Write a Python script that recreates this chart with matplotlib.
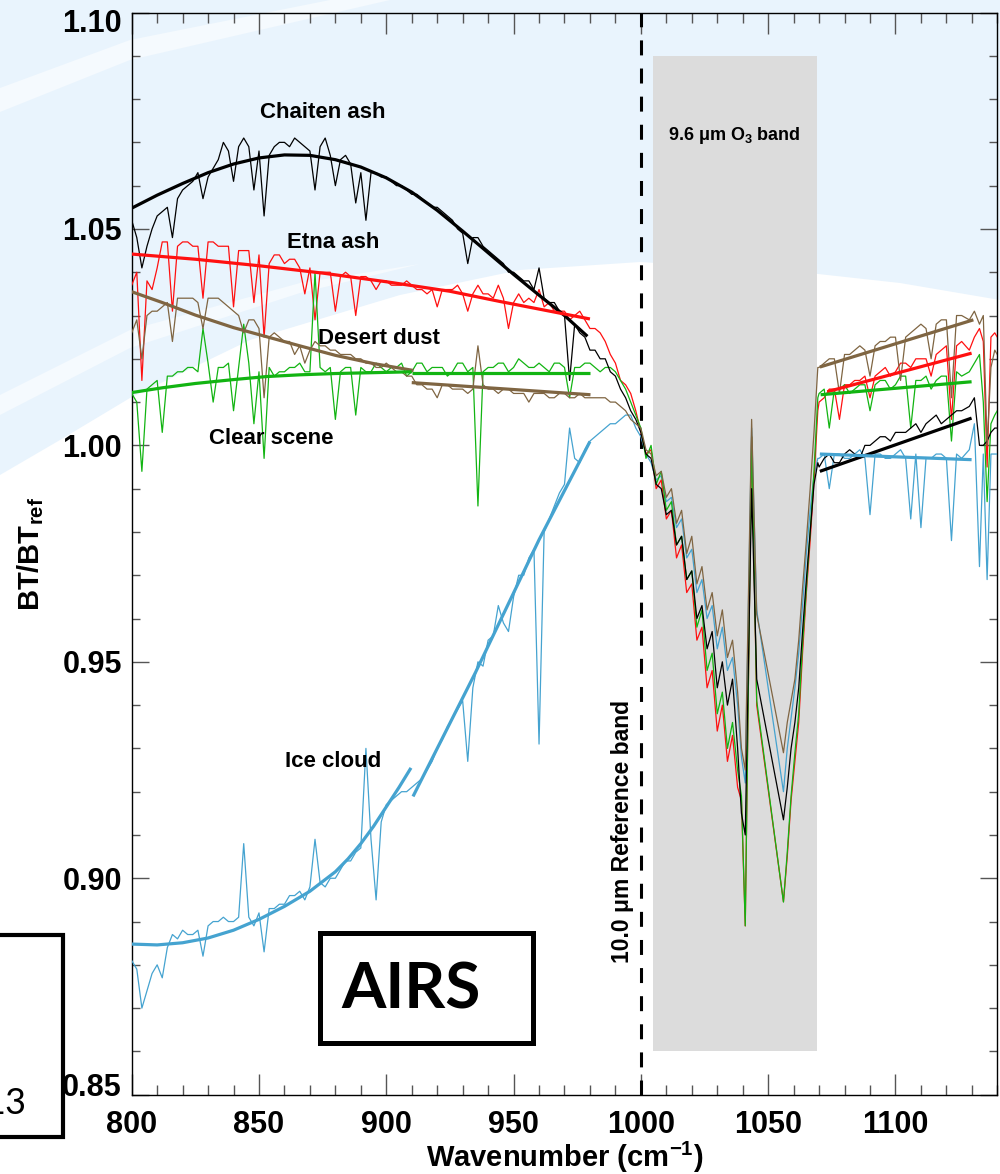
import numpy as np
import matplotlib
matplotlib.use('Agg')
import matplotlib.pyplot as plt
from matplotlib.patches import Polygon, Rectangle
from matplotlib.transforms import ScaledTranslation

plt.rcParams['font.family'] = ['Liberation Sans', 'DejaVu Sans']
plt.rcParams['font.weight'] = 'bold'
plt.rcParams['mathtext.fontset'] = 'custom'
plt.rcParams['mathtext.rm'] = 'Liberation Sans:bold'
plt.rcParams['mathtext.it'] = 'Liberation Sans:bold'
plt.rcParams['mathtext.bf'] = 'Liberation Sans:bold'
plt.rcParams['mathtext.default'] = 'regular'

# ---- wavenumber grids (cm-1) ----
wn_left = list(range(800, 1000, 4))
wn_left_mid = list(range(802, 1000, 4))
wn_band = [1000, 1002, 1004, 1006, 1008, 1010, 1012, 1014, 1016, 1018, 1020, 1022, 1024,
           1026, 1028, 1030, 1032, 1034, 1036, 1038, 1039.5, 1041, 1043.5, 1045.5, 1056,
           1057.5, 1059, 1060.5, 1062, 1063.5, 1065, 1066.5, 1068, 1069.5]
wn_right = [1070, 1074, 1078, 1082, 1086, 1090, 1094, 1098, 1102, 1106, 1110, 1114, 1118,
            1122, 1126, 1129, 1131, 1133, 1134.5, 1136, 1137.5, 1139, 1140]
wn_right_mid = list(range(1072, 1125, 4))

# ---- spectra: BT/BTref ----
chaiten_left = [1.052, 1.041, 1.050, 1.054, 1.048, 1.059, 1.061, 1.057, 1.064, 1.070,
                1.061, 1.071, 1.059, 1.053, 1.069, 1.070, 1.071, 1.069, 1.059, 1.071,
                1.060, 1.067, 1.056, 1.052, 1.063, 1.062, 1.060, 1.059, 1.058, 1.056,
                1.055, 1.053, 1.050, 1.042, 1.048, 1.045, 1.043, 1.040, 1.039, 1.038,
                1.041, 1.033, 1.031, 1.015, 1.026, 1.022, 1.020, 1.017, 1.013, 1.008]
chaiten_left_mid = [1.048, 1.046, 1.053, 1.055, 1.057, 1.060, 1.063, 1.062, 1.066, 1.068,
                    1.069, 1.069, 1.068, 1.067, 1.070, 1.069, 1.070, 1.068, 1.069, 1.067,
                    1.066, 1.065, 1.063, 1.063, 1.062, 1.061, 1.060, 1.058, 1.057, 1.055,
                    1.054, 1.052, 1.049, 1.048, 1.046, 1.044, 1.042, 1.040, 1.038, 1.036,
                    1.034, 1.033, 1.030, 1.028, 1.025, 1.022, 1.020, 1.016, 1.011, 1.006]
chaiten_band = [1.003, 0.998, 0.997, 0.991, 0.990, 0.984, 0.985, 0.977, 0.979, 0.969,
                0.971, 0.960, 0.963, 0.953, 0.957, 0.944, 0.950, 0.940, 0.946, 0.930,
                0.915, 0.910, 0.990, 0.946, 0.9135, 0.921, 0.930, 0.936, 0.944, 0.957,
                0.969, 0.980, 0.991, 0.996]
chaiten_right = [0.995, 0.998, 0.996, 0.999, 0.997, 1.000, 1.002, 1.001, 1.003, 1.004,
                 1.003, 1.006, 1.005, 1.007, 1.008, 1.009, 1.011, 1.000, 1.000, 1.001,
                 1.003, 1.004, 1.004]
chaiten_right_mid = [0.997, 0.996, 0.998, 0.998, 1.000, 1.001, 1.002, 1.003, 1.003, 1.005,
                     1.005, 1.007, 1.006, 1.008]

etna_left = [1.037, 1.015, 1.036, 1.047, 1.031, 1.047, 1.046, 1.034, 1.047, 1.046,
             1.032, 1.045, 1.033, 1.025, 1.044, 1.042, 1.043, 1.035, 1.029, 1.040,
             1.031, 1.040, 1.030, 1.039, 1.036, 1.038, 1.037, 1.038, 1.036, 1.035,
             1.032, 1.036, 1.037, 1.031, 1.037, 1.035, 1.037, 1.027, 1.035, 1.034,
             1.036, 1.033, 1.031, 1.029, 1.031, 1.027, 1.026, 1.021, 1.015, 1.012]
etna_left_mid = [1.040, 1.038, 1.041, 1.047, 1.046, 1.047, 1.046, 1.047, 1.046, 1.046,
                 1.045, 1.045, 1.044, 1.042, 1.044, 1.043, 1.041, 1.041, 1.040, 1.040,
                 1.039, 1.039, 1.039, 1.038, 1.038, 1.037, 1.037, 1.037, 1.036, 1.036,
                 1.036, 1.036, 1.035, 1.035, 1.035, 1.034, 1.034, 1.033, 1.033, 1.033,
                 1.032, 1.031, 1.031, 1.030, 1.029, 1.027, 1.024, 1.019, 1.014, 1.008]
etna_band = [1.003, 0.998, 0.999, 0.990, 0.992, 0.983, 0.985, 0.974, 0.977, 0.966,
             0.968, 0.955, 0.958, 0.944, 0.948, 0.934, 0.940, 0.927, 0.933, 0.921,
             0.918, 0.889, 1.002, 0.940, 0.8946, 0.905, 0.918, 0.927, 0.936, 0.952,
             0.966, 0.978, 0.992, 1.008]
etna_right = [1.010, 1.013, 1.006, 1.014, 1.015, 1.011, 1.017, 1.016, 1.019, 1.018,
              1.020, 1.016, 1.022, 1.006, 1.024, 1.022, 1.025, 1.027, 1.024, 0.995,
              1.025, 1.026, 1.025]
etna_right_mid = [1.011, 1.013, 1.014, 1.015, 1.016, 1.016, 1.018, 1.017, 1.019, 1.020,
                  1.020, 1.021, 1.023, 1.023]

dust_left = [1.026, 1.020, 1.031, 1.032, 1.024, 1.034, 1.034, 1.027, 1.034, 1.033,
             1.031, 1.026, 1.029, 1.011, 1.026, 1.024, 1.021, 1.019, 1.024, 1.023,
             1.022, 1.021, 1.020, 1.019, 1.018, 1.019, 1.017, 1.016, 1.014, 1.013,
             1.011, 1.014, 1.013, 1.012, 1.023, 1.013, 1.012, 1.013, 1.012, 1.010,
             1.012, 1.011, 1.012, 1.011, 1.012, 1.011, 1.011, 1.010, 1.009, 1.006]
dust_left_mid = [1.029, 1.030, 1.031, 1.033, 1.034, 1.034, 1.033, 1.034, 1.034, 1.032,
                 1.030, 1.029, 1.027, 1.025, 1.025, 1.024, 1.023, 1.022, 1.023, 1.022,
                 1.021, 1.021, 1.020, 1.019, 1.018, 1.018, 1.017, 1.016, 1.014, 1.013,
                 1.014, 1.013, 1.013, 1.013, 1.014, 1.013, 1.013, 1.012, 1.012, 1.012,
                 1.012, 1.011, 1.012, 1.011, 1.011, 1.011, 1.011, 1.010, 1.008, 1.005]
dust_band = [1.004, 0.999, 0.998, 0.993, 0.994, 0.988, 0.990, 0.982, 0.985, 0.975,
             0.979, 0.968, 0.972, 0.962, 0.966, 0.956, 0.962, 0.951, 0.955, 0.943,
             0.930, 0.925, 1.006, 0.961, 0.929, 0.936, 0.941, 0.946, 0.955, 0.967,
             0.978, 0.990, 1.003, 1.018]
dust_right = [1.018, 1.020, 1.012, 1.021, 1.023, 1.016, 1.024, 1.025, 1.015, 1.026,
              1.028, 1.020, 1.029, 1.011, 1.030, 1.029, 1.031, 1.028, 1.030, 1.000,
              1.018, 1.022, 1.021]
dust_right_mid = [1.019, 1.020, 1.021, 1.022, 1.022, 1.023, 1.024, 1.025, 1.025, 1.027,
                  1.027, 1.028, 1.029, 1.030]

clear_left = [1.012, 0.994, 1.014, 1.003, 1.016, 1.017, 1.018, 1.027, 1.010, 1.018,
              1.008, 1.028, 1.005, 0.997, 1.016, 1.017, 1.018, 1.017, 1.040, 1.017,
              1.006, 1.018, 1.007, 1.017, 1.019, 1.017, 1.018, 1.016, 1.019, 1.017,
              1.018, 1.016, 1.019, 1.017, 0.986, 1.018, 1.019, 1.017, 1.020, 1.018,
              1.019, 1.017, 1.019, 1.011, 1.018, 1.019, 1.017, 1.018, 1.015, 1.010]
clear_left_mid = [1.010, 1.013, 1.015, 1.016, 1.017, 1.018, 1.017, 1.019, 1.018, 1.019,
                  1.018, 1.019, 1.017, 1.018, 1.017, 1.018, 1.019, 1.017, 1.018, 1.018,
                  1.017, 1.018, 1.018, 1.017, 1.018, 1.018, 1.019, 1.017, 1.019, 1.018,
                  1.018, 1.017, 1.019, 1.018, 1.017, 1.018, 1.019, 1.018, 1.019, 1.018,
                  1.018, 1.019, 1.018, 1.018, 1.019, 1.018, 1.018, 1.017, 1.013, 1.007]
clear_band = [1.004, 0.997, 1.000, 0.991, 0.994, 0.985, 0.987, 0.977, 0.979, 0.969,
              0.971, 0.958, 0.962, 0.948, 0.952, 0.938, 0.943, 0.930, 0.936, 0.925,
              0.919, 0.889, 1.002, 0.941, 0.8945, 0.906, 0.919, 0.929, 0.938, 0.954,
              0.967, 0.980, 0.994, 1.011]
clear_right = [1.012, 1.004, 1.013, 1.012, 1.014, 1.008, 1.015, 1.013, 1.016, 1.004,
               1.015, 1.013, 1.016, 1.001, 1.016, 1.017, 1.019, 1.021, 1.010, 0.987,
               1.005, 1.007, 1.008]
clear_right_mid = [1.013, 1.013, 1.014, 1.013, 1.014, 1.014, 1.015, 1.014, 1.016, 1.015,
                   1.016, 1.015, 1.016, 1.017]

ice_left = [0.881, 0.870, 0.878, 0.877, 0.887, 0.888, 0.887, 0.882, 0.890, 0.891,
            0.890, 0.908, 0.889, 0.883, 0.893, 0.894, 0.896, 0.895, 0.909, 0.898,
            0.900, 0.904, 0.906, 0.930, 0.895, 0.917, 0.919, 0.920, 0.922, 0.925,
            0.930, 0.935, 0.939, 0.927, 0.950, 0.955, 0.963, 0.957, 0.970, 0.974,
            0.931, 0.983, 0.989, 1.004, 0.996, 1.001, 1.003, 1.005, 1.006, 1.007]
ice_left_mid = [0.879, 0.874, 0.880, 0.884, 0.886, 0.887, 0.888, 0.889, 0.890, 0.890,
                0.891, 0.891, 0.892, 0.893, 0.894, 0.896, 0.897, 0.898, 0.899, 0.900,
                0.902, 0.904, 0.907, 0.909, 0.913, 0.918, 0.920, 0.921, 0.923, 0.927,
                0.932, 0.937, 0.941, 0.944, 0.949, 0.956, 0.959, 0.965, 0.970, 0.976,
                0.980, 0.986, 0.991, 0.997, 0.999, 1.002, 1.004, 1.005, 1.007, 1.004]
ice_band = [1.002, 0.998, 0.996, 0.992, 0.993, 0.987, 0.988, 0.981, 0.983, 0.974,
            0.976, 0.966, 0.969, 0.960, 0.963, 0.953, 0.958, 0.948, 0.951, 0.940,
            0.928, 0.922, 1.004, 0.962, 0.920, 0.930, 0.937, 0.944, 0.952, 0.963,
            0.975, 0.985, 0.993, 0.997]
ice_right = [0.997, 0.990, 0.998, 0.997, 0.999, 0.984, 0.998, 0.997, 0.999, 0.983,
             0.981, 0.997, 0.998, 0.978, 0.997, 0.999, 1.005, 0.972, 0.998, 0.969,
             0.998, 0.998, 0.998]
ice_right_mid = [0.998, 0.998, 0.997, 0.998, 0.997, 0.998, 0.997, 0.998, 0.997, 0.998,
                 0.997, 0.998, 0.997, 0.998]

# ---- fitted curves ----
chaiten_fit_x = [800, 810, 820, 830, 840, 850, 860, 870, 880, 890, 900, 910, 920, 930,
                 940, 950, 960, 970, 979]
chaiten_fit_y = [1.0548, 1.0578, 1.0605, 1.0630, 1.0650, 1.0664, 1.0671, 1.0670, 1.0660,
                 1.0643, 1.0618, 1.0585, 1.0543, 1.0495, 1.0445, 1.0395, 1.0347, 1.0300,
                 1.0252]
chaiten_fit2_x = [1070.3, 1129.9]
chaiten_fit2_y = [0.9940, 1.0063]

etna_fit_x = [800, 825, 850, 875, 900, 925, 945, 980]
etna_fit_y = [1.0442, 1.0430, 1.0415, 1.0398, 1.0378, 1.0356, 1.0332, 1.0292]
etna_fit2_x = [1073.2, 1129.9]
etna_fit2_y = [1.0124, 1.0213]

dust_fit_x = [800, 812, 825, 840, 853, 866, 880, 895, 910.7]
dust_fit_y = [1.0355, 1.0330, 1.0301, 1.0272, 1.0251, 1.0230, 1.0208, 1.0189, 1.0173]
dust_fit1b_x = [910, 980.2]
dust_fit1b_y = [1.0145, 1.0117]
dust_fit2_x = [1070.3, 1130.6]
dust_fit2_y = [1.0181, 1.0290]

clear_fit_x = [800, 812, 825, 840, 853, 866, 880, 895, 910]
clear_fit_y = [1.0122, 1.0133, 1.0143, 1.0152, 1.0159, 1.0163, 1.0166, 1.0168, 1.0170]
clear_fit1b_x = [910, 980]
clear_fit1b_y = [1.0168, 1.0168]
clear_fit2_x = [1070.6, 1129.9]
clear_fit2_y = [1.0117, 1.0147]

ice_fit_x = [800, 810, 820, 830, 840, 850, 860, 870, 880, 885, 890, 895, 900, 905, 909.7]
ice_fit_y = [0.8848, 0.8846, 0.8851, 0.8862, 0.8880, 0.8905, 0.8935, 0.8970, 0.9015,
             0.9045, 0.9080, 0.9120, 0.9165, 0.9210, 0.9255]
ice_fit1b_x = [910.5, 935, 960, 980]
ice_fit1b_y = [0.9189, 0.9475, 0.9782, 1.0009]
ice_fit2_x = [1070.3, 1129.9]
ice_fit2_y = [0.9980, 0.9967]

c_black = '#000000'
c_red = '#ff1010'
c_green = '#12b412'
c_brown = '#7f6542'
c_blue = '#45a3d0'

W, H = 1000, 1174
fig = plt.figure(figsize=(W / 100, H / 100), dpi=100, facecolor='white')


def px(x, y):
    # image pixel -> figure fraction
    return (x / W, 1 - y / H)


# slide background swooshes
bg_blue = '#e9f4fd'
blue_area = [(0, 0), (1000, 0), (1000, 300), (900, 283), (800, 272), (640, 262), (520, 270),
             (400, 295), (250, 340), (130, 398), (60, 440), (0, 475)]
fig.add_artist(Polygon([px(*p) for p in blue_area], closed=True, transform=fig.transFigure,
                       facecolor=bg_blue, edgecolor='none', zorder=-10))
streak1 = [(0, 88), (130, 40), (330, 0), (390, 0), (130, 60), (0, 112)]
streak2 = [(0, 395), (130, 330), (300, 283), (420, 264), (300, 293), (130, 348), (0, 415)]
for s in (streak1, streak2):
    fig.add_artist(Polygon([px(*p) for p in s], closed=True, transform=fig.transFigure,
                           facecolor='white', edgecolor='none', alpha=0.55, zorder=-9))

ax = fig.add_axes([131.7 / W, 1 - 1094.7 / H, (997.3 - 131.7) / W, (1094.7 - 12.5) / H])
ax.set_facecolor('none')

# ozone band shading and reference line
ax.add_patch(Rectangle((1004.9, 0.86), 1069.3 - 1004.9, 0.23, facecolor='#dcdcdc',
                       edgecolor='none', zorder=1))
ax.axvline(1000, color='black', lw=2.2, dashes=(4.9, 4.3), zorder=2)

series = [
    (ice_left, ice_left_mid, ice_band, ice_right, ice_right_mid, c_blue),
    (etna_left, etna_left_mid, etna_band, etna_right, etna_right_mid, c_red),
    (clear_left, clear_left_mid, clear_band, clear_right, clear_right_mid, c_green),
    (chaiten_left, chaiten_left_mid, chaiten_band, chaiten_right, chaiten_right_mid, c_black),
    (dust_left, dust_left_mid, dust_band, dust_right, dust_right_mid, c_brown),
]
for left, lmid, band, right, rmid, col in series:
    xs = np.array(wn_left + wn_left_mid + wn_band + wn_right + wn_right_mid, dtype=float)
    ys = np.array(left + lmid + band + right + rmid)
    order = np.argsort(xs, kind='stable')
    ax.plot(xs[order], ys[order], color=col, lw=0.9, zorder=3)

fits = [
    (chaiten_fit_x, chaiten_fit_y, c_black), (chaiten_fit2_x, chaiten_fit2_y, c_black),
    (etna_fit_x, etna_fit_y, c_red), (etna_fit2_x, etna_fit2_y, c_red),
    (dust_fit_x, dust_fit_y, c_brown), (dust_fit1b_x, dust_fit1b_y, c_brown),
    (dust_fit2_x, dust_fit2_y, c_brown),
    (clear_fit_x, clear_fit_y, c_green), (clear_fit1b_x, clear_fit1b_y, c_green),
    (clear_fit2_x, clear_fit2_y, c_green),
    (ice_fit_x, ice_fit_y, c_blue), (ice_fit1b_x, ice_fit1b_y, c_blue),
    (ice_fit2_x, ice_fit2_y, c_blue),
]
for fx, fy, col in fits:
    ax.plot(fx, fy, color=col, lw=2.3, zorder=4, solid_capstyle='butt')

ax.set_xlim(800, 1140)
ax.set_ylim(0.85, 1.10)
ax.set_xticks([800, 850, 900, 950, 1000, 1050, 1100])
ax.set_xticks(np.arange(800, 1141, 10), minor=True)
ax.set_yticks([0.85, 0.90, 0.95, 1.00, 1.05, 1.10])
ax.set_yticklabels(['0.85', '0.90', '0.95', '1.00', '1.05', '1.10'])
ax.set_yticks(np.arange(0.85, 1.1001, 0.01), minor=True)
ax.tick_params(which='both', direction='in', top=True, right=True, color='#555555',
               width=1, labelsize=22)
ax.tick_params(axis='x', which='major', length=15, pad=11)
ax.tick_params(axis='x', which='minor', length=7)
ax.tick_params(axis='y', which='major', length=12, pad=7)
ax.tick_params(axis='y', which='minor', length=6)
for sp in ax.spines.values():
    sp.set_linewidth(1)

# end labels sit inside the axis range, as in the original
yt = ax.yaxis.get_major_ticks()
yt[0].label1.set_transform(yt[0].label1.get_transform()
                           + ScaledTranslation(0, 10 / 100, fig.dpi_scale_trans))
yt[-1].label1.set_transform(yt[-1].label1.get_transform()
                            + ScaledTranslation(0, -8 / 100, fig.dpi_scale_trans))

ax.set_xlabel('Wavenumber (cm$^{-1}$)', fontsize=21, fontweight='bold', labelpad=0)
ax.set_ylabel('BT/BT$_{ref}$', fontsize=21, fontweight='bold', labelpad=12)

lab = dict(fontsize=16, fontweight='bold', ha='center', va='center', zorder=5)
ax.text(875, 1.0768, 'Chaiten ash', **lab)
ax.text(879, 1.0468, 'Etna ash', **lab)
ax.text(897, 1.0248, 'Desert dust', **lab)
ax.text(855, 1.0017, 'Clear scene', **lab)
ax.text(879, 0.9269, 'Ice cloud', **lab)
ax.text(1036.7, 1.0715, '9.6 \u03bcm O$_3$ band', fontsize=13, fontweight='bold',
        ha='center', va='center', zorder=5)
ax.text(992.7, 0.9107, '10.0 \u03bcm Reference band', fontsize=16.5, fontweight='bold',
        rotation=90, ha='center', va='center', zorder=5)

# AIRS box and the cut-off slide box on the left
fig.add_artist(Rectangle(px(320, 1043), 213 / W, 110 / H, transform=fig.transFigure,
                         facecolor='none', edgecolor='black', lw=3.6, zorder=6))
fig.text(411 / W, 1 - 990 / H, 'AIRS', fontsize=46, fontweight='bold', family='Lato',
         ha='center', va='center', zorder=7)
fig.add_artist(Rectangle(px(-30, 1137), 93 / W, 202 / H, transform=fig.transFigure,
                         facecolor='none', edgecolor='black', lw=3.0, zorder=6))
fig.text(26 / W, 1 - 1103 / H, '13', fontsize=26, fontweight='normal', family='Lato',
         ha='right', va='center', zorder=7)

fig.savefig('out.png', dpi=100, facecolor=fig.get_facecolor())
